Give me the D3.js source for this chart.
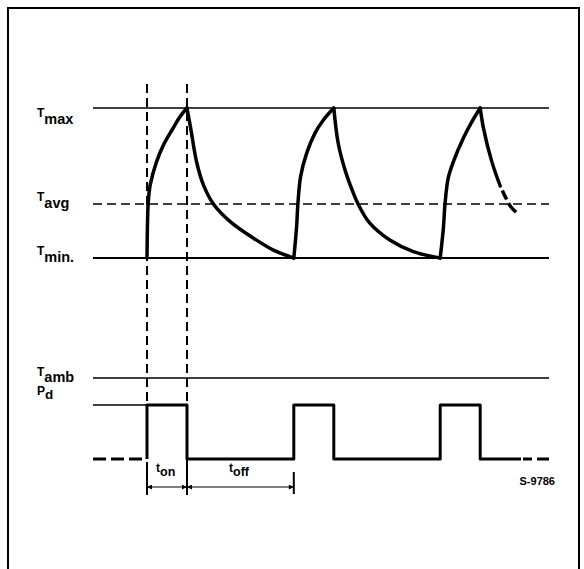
<!DOCTYPE html>
<html>
<head>
<meta charset="utf-8">
<script src="https://cdn.jsdelivr.net/npm/d3@7"></script>
<style>
  html, body { margin: 0; padding: 0; background: #fff; }
  svg { display: block; }
  text { font-family: "Liberation Sans", Arial, sans-serif; font-weight: bold; fill: #000; }
</style>
</head>
<body>
<svg id="chart" width="584" height="569"></svg>
<script>
// time axis (t_on = 1 unit) and temperature levels
const timeDomain = [-1.35, 10.05];
const levelNames = ['max', 'avg', 'min.', 'amb'];
const levelValues = [100, 74.4, 60, 28];

// power pulses: [on, off] times
const pulseEdges = [[0, 1], [3.67, 4.67], [7.33, 8.33]];
const pdSolidEnd = 9.35;

// junction temperature curve, one array per heating / cooling stretch  [t, T]
const rise1 = [[0, 60], [0.01, 68], [0.03, 74.7], [0.08, 79.5], [0.24, 85.7], [0.41, 90.1], [0.64, 94.4], [0.82, 97.6], [1, 100]];
const fall1 = [[1, 100], [1.09, 94.7], [1.24, 85.6], [1.41, 79.5], [1.66, 74.4], [2.08, 69.7], [2.66, 65.3], [3.16, 62.1], [3.67, 60]];
const rise2 = [[3.67, 60], [3.74, 68.3], [3.77, 74.1], [3.84, 81.7], [3.99, 87.9], [4.2, 93.3], [4.41, 96.8], [4.67, 100]];
const fall2 = [[4.67, 100], [4.78, 90.6], [4.95, 83.5], [5.13, 78.1], [5.3, 73.9], [5.57, 69.3], [6.07, 64.8], [6.66, 61.7], [7.33, 60]];
const rise3 = [[7.33, 60], [7.41, 68], [7.45, 74.4], [7.53, 81.3], [7.66, 85.7], [7.91, 92], [8.12, 96.3], [8.33, 100]];
const fall3 = [[8.33, 100], [8.41, 94.7], [8.62, 85.7], [8.83, 79.2]];
const fall3Dashed = [[8.83, 79.2], [8.95, 76.5], [9.1, 73.6], [9.38, 70.7]];

// dimension marks under the pulse
const dimSpans = [[0, 1], [1, 3.67]];
const dimLabels = ['on', 'off'];
const figureCode = 'S-9786';

const svg = d3.select('#chart');

// frame
svg.append('rect')
  .attr('x', 8).attr('y', 8)
  .attr('width', 571).attr('height', 620)
  .attr('fill', 'none')
  .attr('stroke', '#000')
  .attr('stroke-width', 2);

const x = d3.scaleLinear().domain(timeDomain).range([93, 549]);
const yT = d3.scaleLinear().domain([60, 100]).range([258, 108]);
const yP = d3.scaleLinear().domain([0, 1]).range([459, 405]);

const g = svg.append('g');

// reference levels
const levelStyle = {
  max: { w: 1.5, dash: null },
  avg: { w: 1.6, dash: '9,5' },
  'min.': { w: 2, dash: null },
  amb: { w: 1.5, dash: null }
};
levelNames.forEach((name, i) => {
  const st = levelStyle[name];
  g.append('line')
    .attr('x1', x(timeDomain[0])).attr('x2', x(timeDomain[1]))
    .attr('y1', yT(levelValues[i])).attr('y2', yT(levelValues[i]))
    .attr('stroke', '#000')
    .attr('stroke-width', st.w)
    .attr('stroke-dasharray', st.dash);
});

// thin Pd reference stub on the left
g.append('line')
  .attr('x1', x(timeDomain[0])).attr('x2', x(0))
  .attr('y1', yP(1)).attr('y2', yP(1))
  .attr('stroke', '#000')
  .attr('stroke-width', 1.5);

// vertical dashed guides at start / end of first pulse
[0, 1].forEach(t => {
  g.append('line')
    .attr('x1', x(t)).attr('x2', x(t))
    .attr('y1', 84).attr('y2', yP(1))
    .attr('stroke', '#000')
    .attr('stroke-width', 2)
    .attr('stroke-dasharray', '9,5');
});

// temperature curve
const curveLine = d3.line()
  .x(d => x(d[0]))
  .y(d => yT(d[1]))
  .curve(d3.curveCatmullRom.alpha(0.5));

[rise1, fall1, rise2, fall2, rise3, fall3].forEach(seg => {
  g.append('path')
    .datum(seg)
    .attr('d', curveLine)
    .attr('fill', 'none')
    .attr('stroke', '#000')
    .attr('stroke-width', 3.5)
    .attr('stroke-linecap', 'round')
    .attr('stroke-linejoin', 'round');
});

g.append('path')
  .datum(fall3Dashed)
  .attr('d', curveLine)
  .attr('fill', 'none')
  .attr('stroke', '#000')
  .attr('stroke-width', 3.5)
  .attr('stroke-dasharray', '0,5,10,4,12,20');

// Pd pulse train
const pdPoints = [[0, 0]];
pulseEdges.forEach(([on, off]) => {
  pdPoints.push([on, 1], [off, 0]);
});
pdPoints.push([pdSolidEnd, 0]);

const stepLine = d3.line()
  .x(d => x(d[0]))
  .y(d => yP(d[1]))
  .curve(d3.curveStepAfter);

g.append('path')
  .datum(pdPoints)
  .attr('d', stepLine)
  .attr('fill', 'none')
  .attr('stroke', '#000')
  .attr('stroke-width', 3)
  .attr('stroke-linejoin', 'round');

// dashed lead-in and tail of the Pd low level
g.append('line')
  .attr('x1', x(timeDomain[0])).attr('x2', x(0))
  .attr('y1', yP(0)).attr('y2', yP(0))
  .attr('stroke', '#000')
  .attr('stroke-width', 3)
  .attr('stroke-dasharray', '13,5');

g.append('line')
  .attr('x1', x(pdSolidEnd)).attr('x2', x(timeDomain[1]))
  .attr('y1', yP(0)).attr('y2', yP(0))
  .attr('stroke', '#000')
  .attr('stroke-width', 3)
  .attr('stroke-dasharray', '0,2,9,5,12');

// dimension arrows for t_on / t_off
const defs = svg.append('defs');
defs.append('marker')
  .attr('id', 'arrow')
  .attr('viewBox', '0 0 10 10')
  .attr('refX', 10).attr('refY', 5)
  .attr('markerWidth', 7).attr('markerHeight', 5)
  .attr('markerUnits', 'userSpaceOnUse')
  .attr('orient', 'auto-start-reverse')
  .append('path')
  .attr('d', 'M0,0L10,5L0,10z')
  .attr('fill', '#000');

const dimY = 487;
const tickBounds = { 0: [462, 495], 1: [459, 495], 3.67: [472, 494] };
Object.keys(tickBounds).forEach(t => {
  g.append('line')
    .attr('x1', x(+t)).attr('x2', x(+t))
    .attr('y1', tickBounds[t][0]).attr('y2', tickBounds[t][1])
    .attr('stroke', '#000')
    .attr('stroke-width', 2);
});

dimSpans.forEach(([a, b], i) => {
  g.append('line')
    .attr('x1', x(a)).attr('x2', x(b))
    .attr('y1', dimY).attr('y2', dimY)
    .attr('stroke', '#000')
    .attr('stroke-width', 1.2)
    .attr('marker-start', 'url(#arrow)')
    .attr('marker-end', 'url(#arrow)');

  const lbl = g.append('text')
    .attr('x', i === 0 ? 156 : 229)
    .attr('y', 472)
    .attr('font-size', 12);
  lbl.append('tspan').text('t');
  lbl.append('tspan')
    .attr('dy', 4)
    .attr('font-size', 12.5)
    .text(dimLabels[i]);
});

// level labels
const labelPos = [
  { name: 'max', y: 117, dy: 7 },
  { name: 'avg', y: 201, dy: 7 },
  { name: 'min.', y: 255, dy: 7 },
  { name: 'amb', y: 376, dy: 6 }
];
labelPos.forEach(p => {
  const t = g.append('text')
    .attr('x', 37)
    .attr('y', p.y)
    .attr('font-size', 12);
  t.append('tspan').text('T');
  t.append('tspan')
    .attr('dy', p.dy)
    .attr('font-size', 14.5)
    .text(p.name);
});

const pd = g.append('text')
  .attr('x', 37)
  .attr('y', 395)
  .attr('font-size', 12);
pd.append('tspan').text('P');
pd.append('tspan').attr('dy', 4).attr('font-size', 13.5).text('d');

g.append('text')
  .attr('x', 555)
  .attr('y', 485)
  .attr('text-anchor', 'end')
  .attr('font-size', 11)
  .text(figureCode);
</script>
</body>
</html>
